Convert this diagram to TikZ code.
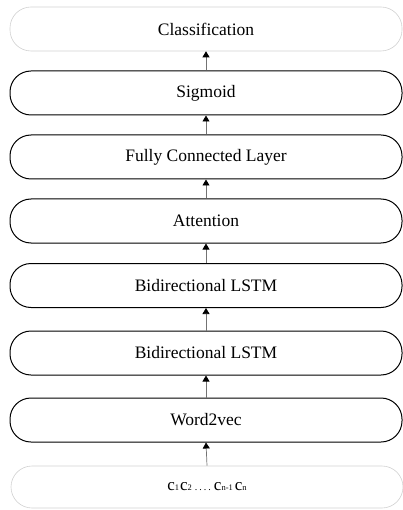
\documentclass[tikz,border=0pt]{standalone}
\usepackage{fontspec}
\setmainfont{Liberation Serif}
\usetikzlibrary{arrows.meta}
\newcommand{\mysub}[1]{{\fontsize{8.5}{9}\selectfont #1}}
\tikzset{
  layer/.style={draw=black, line width=1pt, rounded corners=21pt, minimum width=392pt, minimum height=44pt, inner sep=0pt, font=\fontsize{17.5}{20}\selectfont},
  faint/.style={layer, draw=black!18, line width=0.6pt},
  flow/.style={draw=black!55, line width=0.7pt, -{Triangle[length=6pt,width=7pt,color=black,fill=black]}}
}
\begin{document}
\begin{tikzpicture}[x=1pt,y=-1pt]
\useasboundingbox (0,0) rectangle (403,510);
\node[faint] (cls) at (206,29) {Classification};
\node[layer] (sig) at (206,93) {Sigmoid};
\node[layer] (fc) at (206,157) {Fully Connected Layer};
\node[layer] (att) at (206,221) {Attention};
\node[layer] (bi1) at (206,285.5) {Bidirectional LSTM};
\node[layer] (bi2) at (206,353) {Bidirectional LSTM};
\node[layer] (w2v) at (206,420) {Word2vec};
\node[faint, minimum height=42pt, font=\fontsize{17}{18}\selectfont] (inp) at (207,487) {c\mysub{1}\hspace{1pt}c\mysub{2}\hspace{3pt}{\fontsize{10}{12}\selectfont .\hspace{2pt}.\hspace{2pt}.\hspace{2pt}.}\hspace{3pt}c\mysub{n-1}\hspace{2pt}c\mysub{n}};
\draw[flow] (sig.north) -- (cls.south);
\draw[flow] (fc.north) -- (sig.south);
\draw[flow] (att.north) -- (fc.south);
\draw[flow] (bi1.north) -- (att.south);
\draw[flow] (bi2.north) -- (bi1.south);
\draw[flow] (w2v.north) -- (bi2.south);
\draw[flow] (inp.north) -- (w2v.south);
\end{tikzpicture}
\end{document}
